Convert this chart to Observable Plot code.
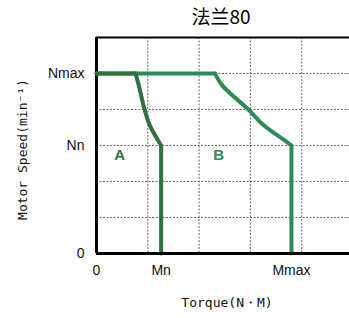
<!DOCTYPE html>
<html>
<head>
<meta charset="utf-8">
<script src="https://cdn.jsdelivr.net/npm/d3@7"></script>
<script src="https://cdn.jsdelivr.net/npm/@observablehq/plot@0.6"></script>
<style>
  html, body { margin: 0; padding: 0; background: #fff; }
</style>
</head>
<body>
<div id="chart"></div>
<script>
// Curve A (rated torque) and curve B (max torque), in grid units
const curveAX = [0, 0.76, 0.825, 0.936, 1.04, 1.18, 1.26, 1.26];
const curveAY = [5, 5, 4.67, 4.0, 3.56, 3.19, 3.0, 0];
const curveBX = [0, 2.31, 2.45, 2.96, 3.26, 3.62, 3.8, 3.8];
const curveBY = [5, 5, 4.67, 4.0, 3.56, 3.19, 3.0, 0];

const yTickValues = [0, 3, 5];
const yTickLabels = ["0", "Nn", "Nmax"];
const xTickValues = [0, 1.26, 3.8];
const xTickLabels = ["0", "Mn", "Mmax"];
const gridX = [1, 2, 3, 4];
const gridY = [1, 2, 3, 4, 5];
const regionLabels = ["A", "B"];
const regionX = [0.45, 2.38];
const regionY = [2.72, 2.72];

const title = "法兰80";
const xTitle = "Torque(N・M)";
const yTitle = "Motor Speed(min⁻¹)";

const colorA = "#2f6f40";
const colorB = "#2e8b57";

function pts(xs, ys) { return xs.map((x, i) => ({x, y: ys[i]})); }
const lineA = pts(curveAX, curveAY);
const lineB = pts(curveBX, curveBY);
// straight parts: top horizontal run and vertical drop; knee: smooth part between
function straight(line) {
  const n = line.length;
  return [
    {...line[0], s: 0}, {...line[1], s: 0},
    {...line[n - 2], s: 1}, {...line[n - 1], s: 1}
  ];
}
function knee(line) { return line.slice(1, line.length - 1); }

const yTicks = yTickValues.map((v, i) => ({v, label: yTickLabels[i]}));
const xTicks = xTickValues.map((v, i) => ({v, label: xTickLabels[i]}));
const regions = regionLabels.map((t, i) => ({t, x: regionX[i], y: regionY[i], c: i === 0 ? colorA : colorB}));

const lw = 4;
const chart = Plot.plot({
  width: 349,
  height: 318,
  marginLeft: 96,
  marginRight: 0,
  marginTop: 37,
  marginBottom: 65,
  x: {domain: [0, 253 / 51.3], axis: null},
  y: {domain: [0, 6], axis: null},
  style: {background: "#fff", overflow: "visible"},
  marks: [
    Plot.ruleX(gridX, {stroke: "#444", strokeWidth: 0.8, strokeDasharray: "2,1.5"}),
    Plot.ruleY(gridY, {stroke: "#444", strokeWidth: 0.8, strokeDasharray: "2,1.5"}),
    Plot.ruleY([6], {stroke: "#000", strokeWidth: 2}),
    Plot.ruleX([0], {stroke: "#000", strokeWidth: 3}),
    Plot.line(straight(lineB), {x: "x", y: "y", z: "s", stroke: colorB, strokeWidth: lw, strokeLinecap: "round"}),
    Plot.line(knee(lineB), {x: "x", y: "y", stroke: colorB, strokeWidth: lw, curve: "catmull-rom", strokeLinecap: "round"}),
    Plot.line(straight(lineA), {x: "x", y: "y", z: "s", stroke: colorA, strokeWidth: lw, strokeLinecap: "round"}),
    Plot.line(knee(lineA), {x: "x", y: "y", stroke: colorA, strokeWidth: lw, curve: "catmull-rom", strokeLinecap: "round"}),
    Plot.ruleY([0], {stroke: "#000", strokeWidth: 3}),
    Plot.text(regions, {x: "x", y: "y", text: "t", fill: "c", fontSize: 15, fontWeight: "bold", fontFamily: "Liberation Sans"}),
    Plot.text(yTicks, {y: "v", text: "label", frameAnchor: "left", dx: -12, textAnchor: "end", fontSize: 14, fontFamily: "Liberation Sans", fill: "#111"}),
    Plot.text(xTicks, {x: "v", text: "label", frameAnchor: "bottom", lineAnchor: "middle", dy: 17, fontSize: 14, fontFamily: "Liberation Sans", fill: "#111"}),
    Plot.text([title], {text: d => d, frameAnchor: "top", lineAnchor: "middle", dy: -20, dx: -2, fontSize: 19, fontFamily: "Noto Sans CJK SC", fill: "#000"}),
    Plot.text([xTitle], {text: d => d, frameAnchor: "bottom", dy: 53, dx: 4, fontSize: 13, fontFamily: "DejaVu Sans Mono", fill: "#111", letterSpacing: "1px"}),
    Plot.text([yTitle], {text: d => d, frameAnchor: "left", textAnchor: "middle", dx: -74, dy: 4, rotate: -90, fontSize: 13, fontFamily: "DejaVu Sans Mono", fill: "#111", letterSpacing: "0.8px"})
  ]
});
document.getElementById("chart").append(chart);
</script>
</body>
</html>
